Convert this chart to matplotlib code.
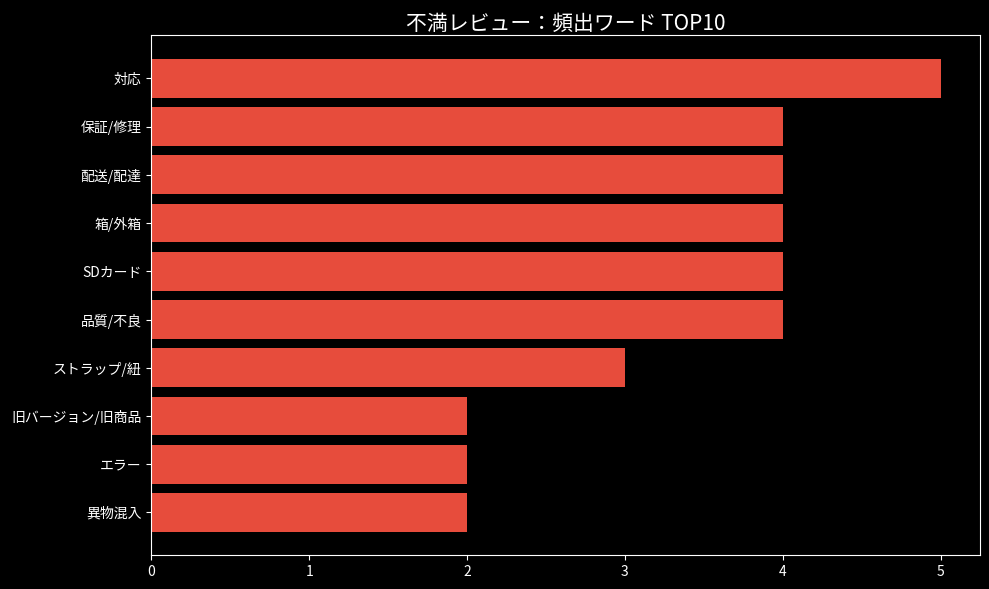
import matplotlib.pyplot as plt

plt.style.use('dark_background')
plt.rcParams['font.family'] = ['Noto Sans CJK JP', 'DejaVu Sans']

words = ['対応', '保証/修理', '配送/配達', '箱/外箱', 'SDカード', '品質/不良',
         'ストラップ/紐', '旧バージョン/旧商品', 'エラー', '異物混入']
counts = [5, 4, 4, 4, 4, 4, 3, 2, 2, 2]

fig, ax = plt.subplots(figsize=(9.89, 5.89), dpi=100)
fig.subplots_adjust(left=0.153, right=0.991, top=0.94, bottom=0.057)

ax.barh(words[::-1], counts[::-1], color='#e74c3c', height=0.8)
ax.set_title('不満レビュー：頻出ワード TOP10', fontsize=15, pad=4)

fig.savefig('out.png', dpi=100)
